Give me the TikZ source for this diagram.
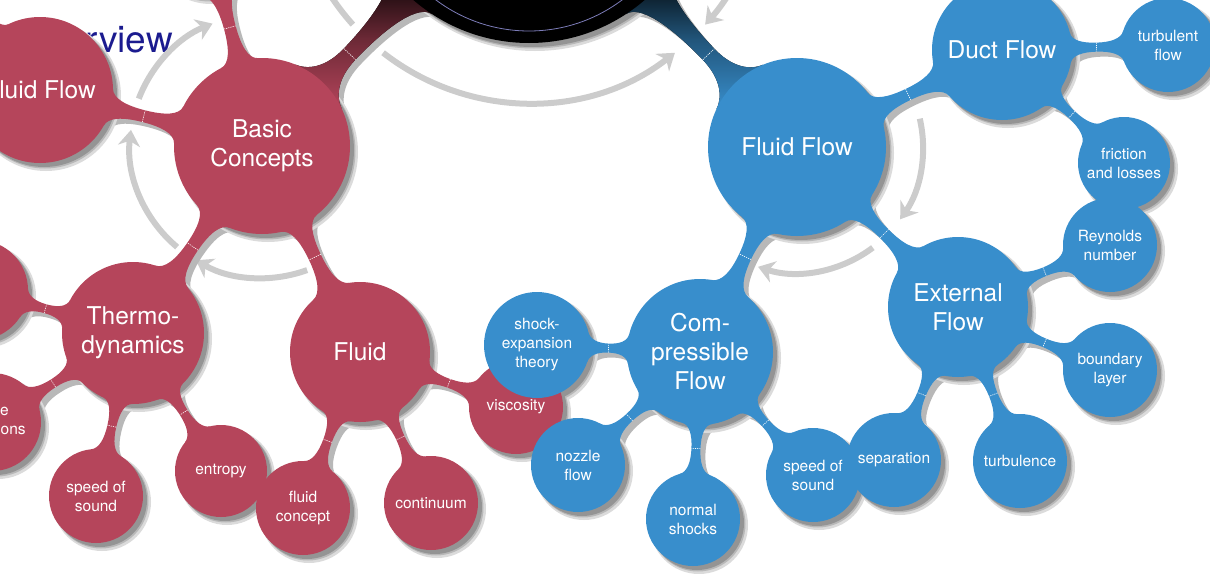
\documentclass[tikz,border=0pt]{standalone}
\usepackage{fontspec}
\setmainfont{TeX Gyre Heros}
\usetikzlibrary{calc,arrows.meta}
\definecolor{redb}{HTML}{B5455B}
\definecolor{blueb}{HTML}{388ECC}
\definecolor{arrowg}{HTML}{CCCCCC}
\definecolor{titleb}{HTML}{1B1B8F}
\definecolor{ringc}{HTML}{7C7CB8}
\pgfdeclarelayer{ground}
\pgfdeclarelayer{shadow}
\pgfdeclarelayer{stems}
\pgfsetlayers{ground,shadow,stems,main}
\tikzset{
  bubble/.style={circle,inner sep=0pt,align=center,text=white,minimum size=2*#1pt,font=\fontsize{15.5}{19}\selectfont},
  rb/.style={bubble=#1,fill=redb},
  bb/.style={bubble=#1,fill=blueb},
  big/.style={font=\fontsize{24.5}{29}\selectfont},
  hub/.style={circle,inner sep=0pt,fill=black,minimum size=354pt},
  ring/.style={draw=ringc,line width=0.8pt},
  title/.style={text=titleb,inner sep=0pt,font=\fontsize{37}{40}\selectfont},
  cycarrow/.style={draw=arrowg,line width=6pt,-{Stealth[length=16pt,width=22pt,inset=5pt]}},
  stemnotch/.style={draw=white,line width=0.6pt,dash pattern=on 1.2pt off 1pt}
}
% stalk: style, node a, radius a, node b, radius b, neck half width, flare half width, neck position
\newcommand{\stalk}[8]{%
  \pgfmathsetmacro\angA{asin(#7/#3)}%
  \pgfmathsetmacro\angB{asin(#7/#5)}%
  \pgfmathsetmacro\ctl{0.5*#7}%
  \coordinate (sA) at ($(#2)!#3pt!(#4)$);
  \coordinate (sB) at ($(#4)!#5pt!(#2)$);
  \coordinate (sM) at ($(sA)!#8!(sB)$);
  \coordinate (sP) at ($(sM)!0.6!(sA)$);
  \coordinate (sQ) at ($(sM)!0.6!(sB)$);
  \coordinate (a1) at ($(#2)!#3pt!\angA:(#4)$);
  \coordinate (a2) at ($(#2)!#3pt!-\angA:(#4)$);
  \coordinate (b1) at ($(#4)!#5pt!-\angB:(#2)$);
  \coordinate (b2) at ($(#4)!#5pt!\angB:(#2)$);
  \fill[#1] (a1) .. controls ($(a1)!\ctl pt!90:(#2)$) and ($(sP)!#6pt!90:(#4)$) .. ($(sM)!#6pt!90:(#4)$)
    .. controls ($(sQ)!#6pt!90:(#4)$) and ($(b1)!\ctl pt!-90:(#4)$) .. (b1)
    -- (b2) .. controls ($(b2)!\ctl pt!90:(#4)$) and ($(sQ)!#6pt!-90:(#4)$) .. ($(sM)!#6pt!-90:(#4)$)
    .. controls ($(sP)!#6pt!-90:(#4)$) and ($(a2)!\ctl pt!-90:(#2)$) .. (a2) -- cycle;
  \draw[stemnotch] ($(sM)!#6pt!90:(#4)$) -- ($(sM)!#6pt!-90:(#4)$);
}
\def\redlinks{basic/88/flowl/73/6/19/0.5, basic/88/topr/60/6/19/0.5, basic/88/thermo/71/6.5/20/0.5,
  basic/88/fluid/70/6.5/20/0.5, flowl/73/farl/55/5/16/0.5, thermo/71/lefta/50/4.5/15/0.5,
  thermo/71/leftb/49/4.5/15/0.5, thermo/71/sosr/47/4.5/15/0.5, thermo/71/entropy/46/4.5/15/0.5,
  fluid/70/concept/47/4.5/15/0.5, fluid/70/continuum/47/4.5/15/0.5, fluid/70/viscosity/47/4.5/15/0.5}
\def\bluelinks{flow/89/duct/70/6/19/0.5, flow/89/ext/70/6/19/0.5, flow/89/comp/73/6.5/20/0.5,
  duct/70/turbflow/47/4.5/15/0.5, duct/70/friction/46/4.5/15/0.5, ext/70/reynolds/47/4.5/15/0.5,
  ext/70/boundary/47/4.5/15/0.5, ext/70/separation/47/4.5/15/0.5, ext/70/turbulence/47/4.5/15/0.5,
  comp/73/shock/53/4.5/15/0.5, comp/73/nozzle/47/4.5/15/0.5, comp/73/normal/47/4.5/15/0.5,
  comp/73/sosb/47/4.5/15/0.5}
\def\allbubbles{black/177, topr/60, farl/55, flowl/73, basic/88, thermo/71, lefta/50, leftb/49,
  sosr/47, entropy/46, fluid/70, concept/47, continuum/47, viscosity/47, flow/89, duct/70,
  turbflow/47, friction/46, reynolds/47, ext/70, boundary/47, turbulence/47, separation/47,
  sosb/47, comp/73, shock/53, nozzle/47, normal/47}

\begin{document}
\begin{tikzpicture}[x=1pt,y=-1pt]
  \useasboundingbox (0,0) rectangle (1210,573);
  % hub
  \node[hub] (black) at (529,-134) {};
  \draw[ring] ($(black)+(0,10)$) circle (155);
  % red branch
  \node[rb=60] (topr) at (205,-64) {};
  \node[rb=55] (farl) at (-80,-62) {};
  \node[rb=73,big] (flowl) at (40,90) {Fluid Flow};
  \node[rb=88,big] (basic) at (262,146) {Basic\\Concepts};
  \node[rb=71,big] (thermo) at (133,333) {Thermo-\\dynamics};
  \node[rb=50] (lefta) at (-22,290) {};
  \node[rb=49] (leftb) at (-8,422) {state\\equations};
  \node[rb=47] (sosr) at (96,496) {speed of\\sound};
  \node[rb=46] (entropy) at (221,471) {entropy};
  \node[rb=47] (concept) at (303,508) {fluid\\concept};
  \node[rb=70,big] (fluid) at (360,352) {Fluid};
  \node[rb=47] (continuum) at (431,503) {continuum};
  \node[rb=47] (viscosity) at (516,407) {viscosity};
  % blue branch
  \node[bb=89,big] (flow) at (797,147) {Fluid Flow};
  \node[bb=70,big] (duct) at (1002,50) {Duct Flow};
  \node[bb=47] (turbflow) at (1168,45) {turbulent\\flow};
  \node[bb=47] (reynolds) at (1110,245) {Reynolds\\number};
  \node[bb=46] (friction) at (1124,163) {friction\\and losses};
  \node[bb=70,big] (ext) at (958,307) {External\\Flow};
  \node[bb=47] (boundary) at (1110,370) {boundary\\layer};
  \node[bb=47] (turbulence) at (1020,461) {turbulence};
  \node[bb=47] (sosb) at (813,475) {speed of\\sound};
  \node[bb=47] (separation) at (894,460) {separation};
  \node[bb=73,big] (comp) at (700,352) {Com-\\pressible\\Flow};
  \node[bb=53] (shock) at (537,345) {shock-\\expansion\\theory};
  \node[bb=47] (nozzle) at (578,465) {nozzle\\flow};
  \node[bb=47] (normal) at (693,519) {normal\\shocks};

  \begin{pgfonlayer}{stems}
    \stalk{top color=black,bottom color=redb,middle color=redb!60!black}{basic}{88}{black}{177}{8}{32}{0.32}
    \stalk{top color=black,bottom color=blueb,middle color=blueb!60!black}{flow}{89}{black}{177}{8}{32}{0.32}
    \foreach \na/\ra/\nb/\rb/\nh/\nw/\np in \redlinks {\stalk{fill=redb}{\na}{\ra}{\nb}{\rb}{\nh}{\nw}{\np}}
    \foreach \na/\ra/\nb/\rb/\nh/\nw/\np in \bluelinks {\stalk{fill=blueb}{\na}{\ra}{\nb}{\rb}{\nh}{\nw}{\np}}
  \end{pgfonlayer}

  \begin{pgfonlayer}{shadow}
    \begin{scope}[transform canvas={shift={(5pt,-5pt)}},stemnotch/.style={draw=none}]
      \stalk{fill=black!28}{basic}{88}{black}{177}{8}{32}{0.32}
      \stalk{fill=black!28}{flow}{89}{black}{177}{8}{32}{0.32}
      \foreach \na/\ra/\nb/\rb/\nh/\nw/\np in \redlinks {\stalk{fill=black!28}{\na}{\ra}{\nb}{\rb}{\nh}{\nw}{\np}}
      \foreach \na/\ra/\nb/\rb/\nh/\nw/\np in \bluelinks {\stalk{fill=black!28}{\na}{\ra}{\nb}{\rb}{\nh}{\nw}{\np}}
    \end{scope}
    \foreach \o/\g/\c in {6/2/14,5/0.5/28,4/0/42}
      \foreach \n/\r in \allbubbles
        \fill[black!\c] ($(\n)+(\o,\o)$) circle (\r+\g);
  \end{pgfonlayer}

  \begin{pgfonlayer}{ground}
    \node[title,anchor=base east] (title) at (173,52) {Overview};
    \draw[cycarrow] (basic) ++(70:132) arc[start angle=70,end angle=120,radius=132];
    \draw[cycarrow] (basic) ++(130:132) arc[start angle=130,end angle=187,radius=132];
    \draw[cycarrow] (basic) ++(201:132) arc[start angle=201,end angle=248,radius=132];
    \draw[cycarrow,-] (black) ++(150:237) arc[start angle=150,end angle=138,radius=237];
    \draw[cycarrow] (black) ++(128:237) arc[start angle=128,end angle=52,radius=237];
    \draw[cycarrow] (black) ++(22:237) arc[start angle=22,end angle=42,radius=237];
    \draw[cycarrow] (flow) ++(-13:126) arc[start angle=-13,end angle=35,radius=126];
    \draw[cycarrow] (flow) ++(53:126) arc[start angle=53,end angle=108,radius=126];
  \end{pgfonlayer}
\end{tikzpicture}
\end{document}
